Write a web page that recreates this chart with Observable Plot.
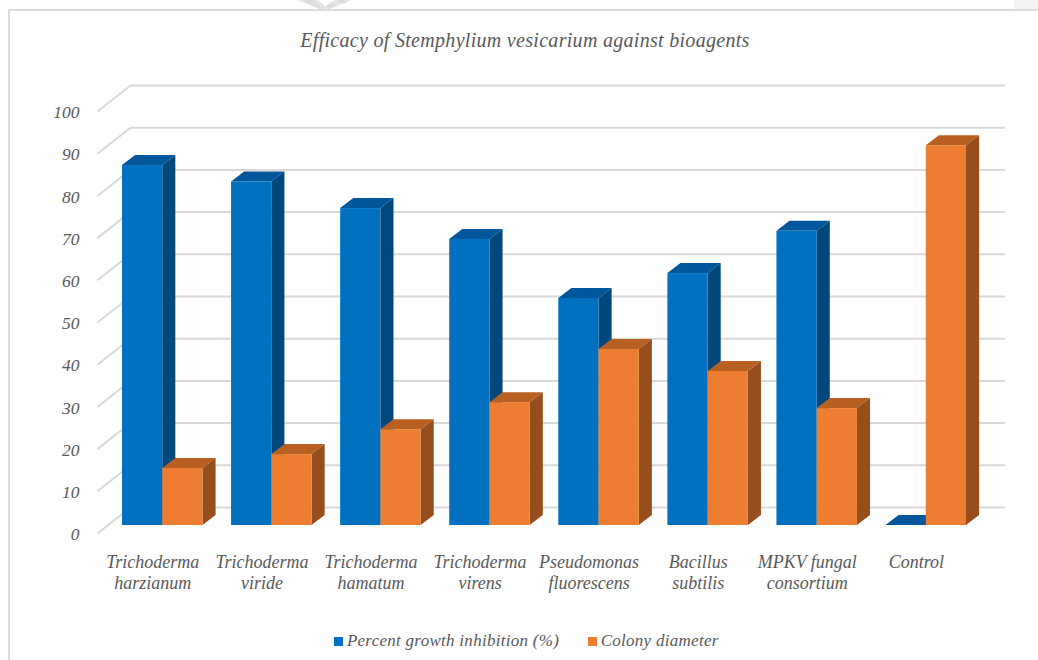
<!DOCTYPE html>
<html>
<head>
<meta charset="utf-8">
<script src="https://cdn.jsdelivr.net/npm/d3@7"></script>
<script src="https://cdn.jsdelivr.net/npm/@observablehq/plot@0.6"></script>
<style>
html,body{margin:0;padding:0;background:#fff;}
#page{position:relative;width:1038px;height:660px;overflow:hidden;font-family:"Liberation Serif",serif;font-style:italic;color:#595959;}
#frame{position:absolute;left:8px;top:9px;width:1040px;height:670px;border:2.5px solid #dcdcdc;box-sizing:border-box;}
#patch{position:absolute;left:1014px;top:0;width:24px;height:9px;background:#f2f2f2;}
#mark{position:absolute;left:297px;top:0;width:55px;height:9px;background:repeating-linear-gradient(45deg,#d4d4d4 0 1px,#eee 1px 2px);clip-path:polygon(0 0,37% 0,51% 70%,70% 0,100% 0,58% 100%,42% 100%);}
#title{position:absolute;left:0;top:28px;width:1050px;text-align:center;font-size:20px;letter-spacing:.3px;line-height:24px;}
#chart{position:absolute;left:0;top:65px;}
#legend{position:absolute;left:0;top:630px;width:1053px;display:flex;justify-content:center;align-items:center;font-size:17px;line-height:22px;letter-spacing:.28px;}
#legend .sw{display:inline-block;width:9px;height:9px;margin-right:3.5px;}
#legend .it{display:flex;align-items:center;}
#legend .it+.it{margin-left:29px;}
</style>
</head>
<body>
<div id="page">
  <div id="mark"></div>
  <div id="patch"></div>
  <div id="frame"></div>
  <div id="title">Efficacy of Stemphylium vesicarium against bioagents</div>
  <div id="chart"></div>
  <div id="legend"></div>
</div>
<script>
const categories = ["Trichoderma\nharzianum","Trichoderma\nviride","Trichoderma\nhamatum","Trichoderma\nvirens","Pseudomonas\nfluorescens","Bacillus\nsubtilis","MPKV fungal\nconsortium","Control"];
const inhibition = [85.3,81.4,75.1,67.8,53.8,59.7,69.7,0];
const colony = [13.5,16.8,22.7,29.1,41.7,36.5,27.7,90.0];
const yTicks = [0,10,20,30,40,50,60,70,80,90,100];
const seriesNames = ["Percent growth inhibition (%)","Colony diameter"];

// Oblique-projection offsets, in scale units
const barW = 0.369, depthX = 0.12, depthY = 2.37;
const wallX = 0.073, wallY = 4.27, floorX = -0.23, floorY = -1.9, wallEnd = 8.096;

function faces(values, offset){
  const idx = values.map((v,i)=>({v,i,l:i+offset,r:i+offset+barW}));
  return {
    front: idx,
    side: idx.flatMap(d=>d.v>0?[{k:d.i,x:d.r,y1:0,y2:d.v},{k:d.i,x:d.r+depthX,y1:depthY,y2:d.v+depthY}]:[]),
    top: idx.flatMap(d=>[{k:d.i,x1:d.l,x2:d.r,y:d.v},{k:d.i,x1:d.l+depthX,x2:d.r+depthX,y:d.v+depthY}])
  };
}
function barMarks(f,cFront,cSide,cTop){
  return [
    Plot.area(f.top,{x1:"x1",x2:"x2",y1:"y",y2:"y",z:"k",fill:cTop}),
    Plot.area(f.side,{x1:"x",y1:"y1",y2:"y2",z:"k",fill:cSide}),
    Plot.rect(f.front.filter(d=>d.v>0),{x1:"l",x2:"r",y1:0,y2:"v",fill:cFront})
  ];
}
const grid = "#d9d9d9";
const chart = Plot.plot({
  width:1038,height:545,margin:0,
  style:{background:"transparent",overflow:"visible"},
  x:{type:"linear",domain:[0,8],range:[122,994.6],axis:null},
  y:{type:"linear",domain:[0,100],range:[460,38],axis:null},
  marks:[
    Plot.ruleY(yTicks,{y:d=>d+wallY,x1:wallX,x2:wallEnd,stroke:grid,strokeWidth:2}),
    Plot.link(yTicks,{x1:floorX,y1:d=>d+floorY,x2:wallX,y2:d=>d+wallY,stroke:grid,strokeWidth:2}),
    ...barMarks(faces(inhibition,0),"#0070c0","#00477c","#00569a"),
    ...barMarks(faces(colony,barW),"#ed7d31","#964f1c","#b85f22"),
    Plot.text(yTicks,{text:d=>String(d),x:-0.394,y:d=>d+floorY,dy:1,textAnchor:"end",fontSize:17.5,fontStyle:"italic",fontFamily:"Liberation Serif",fill:"#595959"}),
    Plot.text(categories,{text:d=>d,x:(d,i)=>i+0.278,y:-6.6,lineAnchor:"top",lineHeight:1.167,textAnchor:"middle",fontSize:18,fontStyle:"italic",fontFamily:"Liberation Serif",fill:"#595959"})
  ]
});
document.getElementById("chart").append(chart);
const lg = document.getElementById("legend");
[["#0070c0",seriesNames[0]],["#ed7d31",seriesNames[1]]].forEach(([c,t])=>{
  const it=document.createElement("span");it.className="it";
  const s=document.createElement("span");s.className="sw";s.style.background=c;
  it.append(s,document.createTextNode(t));lg.append(it);
});
</script>
</body>
</html>
